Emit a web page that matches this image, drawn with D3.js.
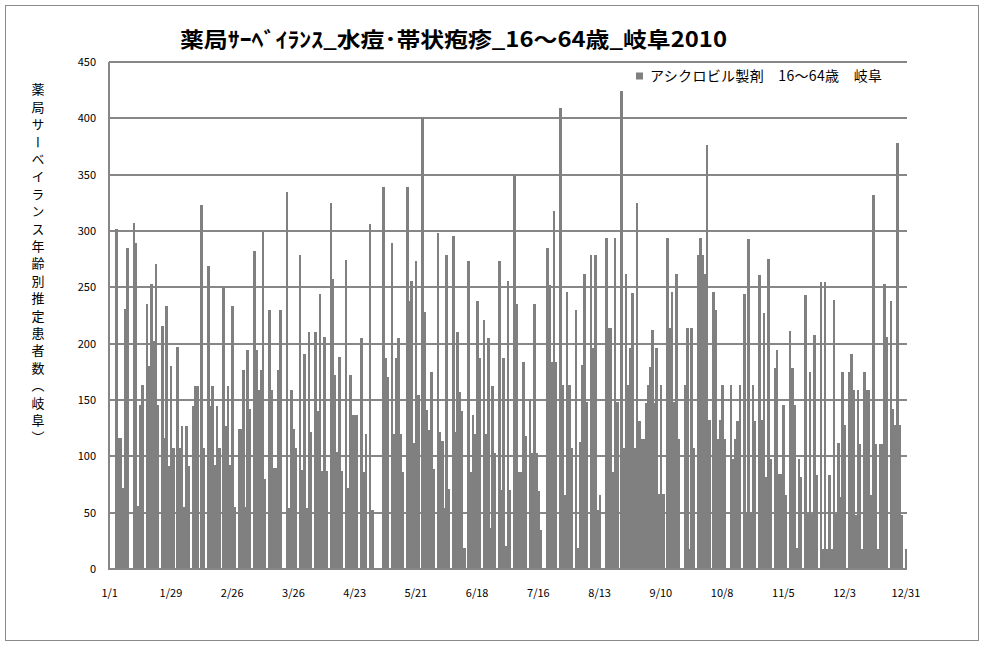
<!DOCTYPE html>
<html><head><meta charset="utf-8">
<script src="https://cdn.jsdelivr.net/npm/d3@7"></script>
<style>
html,body{margin:0;padding:0;background:#fff;}
svg{display:block;font-family:"Noto Sans CJK JP","Noto Sans",sans-serif;}
</style></head>
<body><svg id="chart" width="983" height="646"></svg>
<script>
// ---- data: daily estimated patients, 2010 (one array per month) ----
const jan=[0,0,0,302,116,116,72,231,285,0,0,307,289,56,146,163,0,235,180,253,202,271,146,0,216,116,233,91,180,107,0];
const feb=[197,107,127,55,127,91,0,145,162,162,0,323,107,0,269,145,162,92,145,107,0,250,127,162,92,233,55,0];
const mar=[124,124,177,55,194,142,0,282,194,159,177,299,80,0,230,159,90,90,177,230,0,0,335,54,159,124,107,0,279,88,191];
const apr=[54,210,122,0,210,140,244,87,206,87,0,325,257,172,104,188,87,0,274,72,172,137,137,137,0,205,86,120,0,306];
const may=[52,0,0,0,0,339,187,170,0,289,120,187,205,120,86,0,339,238,256,112,273,154,0,401,228,141,123,175,89,0,298];
const jun=[122,114,54,279,71,0,296,122,210,157,140,19,0,273,86,137,120,238,187,0,221,120,205,36,162,103,0,273,70,187];
const jul=[20,256,70,0,350,235,86,86,184,118,0,151,103,235,103,69,35,0,0,285,252,184,318,184,0,409,163,66,246,163,107];
const aug=[0,230,19,113,181,262,148,0,279,196,279,52,66,0,0,294,214,214,86,294,148,0,424,107,262,163,196,245,107,325,131];
const sep=[115,115,147,163,179,212,147,196,67,163,67,0,294,214,246,148,262,115,0,0,163,214,18,214,107,0,279,294,279,262];
const oct=[376,132,0,246,230,115,132,163,115,0,0,163,98,115,131,163,0,244,51,293,51,163,131,0,261,132,227,82,275,98,0];
const nov=[178,194,84,84,146,66,0,211,178,146,19,98,82,0,243,49,175,49,208,83,0,255,18,255,18,83,18,239,49,112];
const dec=[64,175,128,0,175,191,159,48,159,111,18,175,159,159,66,332,111,18,111,111,253,206,0,238,142,128,378,128,48,0,18];
const xTickLabels=["1/1","1/29","2/26","3/26","4/23","5/21","6/18","7/16","8/13","9/10","10/8","11/5","12/3","12/31"];
const yTicks=[0,50,100,150,200,250,300,350,400,450];
const title="薬局ｻｰﾍﾞｲﾗﾝｽ_水痘･帯状疱疹_16～64歳_岐阜2010";
const yTitle="薬局サーベイランス年齢別推定患者数（岐阜）";
const seriesName="アシクロビル製剤　16～64歳　岐阜";

const values=[].concat(jan,feb,mar,apr,may,jun,jul,aug,sep,oct,nov,dec);
const days=d3.range(values.length);

const svg=d3.select("#chart");
svg.append("rect").attr("x",0).attr("y",0).attr("width",983).attr("height",646).attr("fill","#fff");
svg.append("rect").attr("x",5.5).attr("y",5.5).attr("width",973).attr("height",635)
  .attr("fill","none").attr("stroke","#8a8a8a").attr("stroke-width",1);

const pL=108.6,pR=907,pT=62,pB=569;
const x=d3.scaleBand().domain(days).range([pL,pR]).paddingInner(0).paddingOuter(0);
const y=d3.scaleLinear().domain([0,450]).range([pB,pT]);

// gridlines
svg.append("g").selectAll("line").data(yTicks.filter(t=>t>0)).join("line")
  .attr("x1",pL).attr("x2",pR).attr("y1",d=>y(d)).attr("y2",d=>y(d))
  .attr("stroke","#878787").attr("stroke-width",2).attr("shape-rendering","crispEdges");

// bars
svg.append("g").selectAll("rect").data(days).join("rect")
  .attr("x",d=>x(d)).attr("width",x.bandwidth()+0.4)
  .attr("y",d=>y(values[d])).attr("height",d=>y(0)-y(values[d]))
  .attr("fill","#808080").attr("shape-rendering","crispEdges");

// axes lines
svg.append("line").attr("x1",pL).attr("x2",pL).attr("y1",pT).attr("y2",pB+1)
  .attr("stroke","#878787").attr("stroke-width",2).attr("shape-rendering","crispEdges");
svg.append("line").attr("x1",pL).attr("x2",pR).attr("y1",pB).attr("y2",pB)
  .attr("stroke","#878787").attr("stroke-width",2).attr("shape-rendering","crispEdges");

// y tick labels
svg.append("g").selectAll("text").data(yTicks).join("text")
  .attr("x",96).attr("y",d=>y(d)+4).attr("text-anchor","end")
  .attr("font-size",11).attr("fill","#000").text(d=>d);

// x tick labels
const tickDays=xTickLabels.map((_,i)=>Math.min(i*28,values.length-1));
svg.append("g").selectAll("text").data(tickDays).join("text")
  .attr("x",d=>x(d)+x.bandwidth()/2).attr("y",597).attr("text-anchor","middle")
  .attr("font-size",11).attr("fill","#000").text((d,i)=>xTickLabels[i]);

// title
svg.append("text").attr("x",180).attr("y",47)
  .attr("textLength",547).attr("lengthAdjust","spacingAndGlyphs")
  .attr("font-size",21).attr("font-weight","bold").attr("fill","#000").text(title);

// y axis title (vertical)
svg.append("text").attr("x",38).attr("y",83)
  .attr("style","writing-mode:vertical-rl;text-orientation:upright;letter-spacing:4.4px")
  .attr("font-size",13).attr("fill","#000").text(yTitle);

// legend
svg.append("rect").attr("x",636).attr("y",72.5).attr("width",7).attr("height",7).attr("fill","#808080");
svg.append("text").attr("x",650).attr("y",81).attr("textLength",232).attr("lengthAdjust","spacing")
  .attr("font-size",14).attr("fill","#000").text(seriesName);
</script></body></html>
